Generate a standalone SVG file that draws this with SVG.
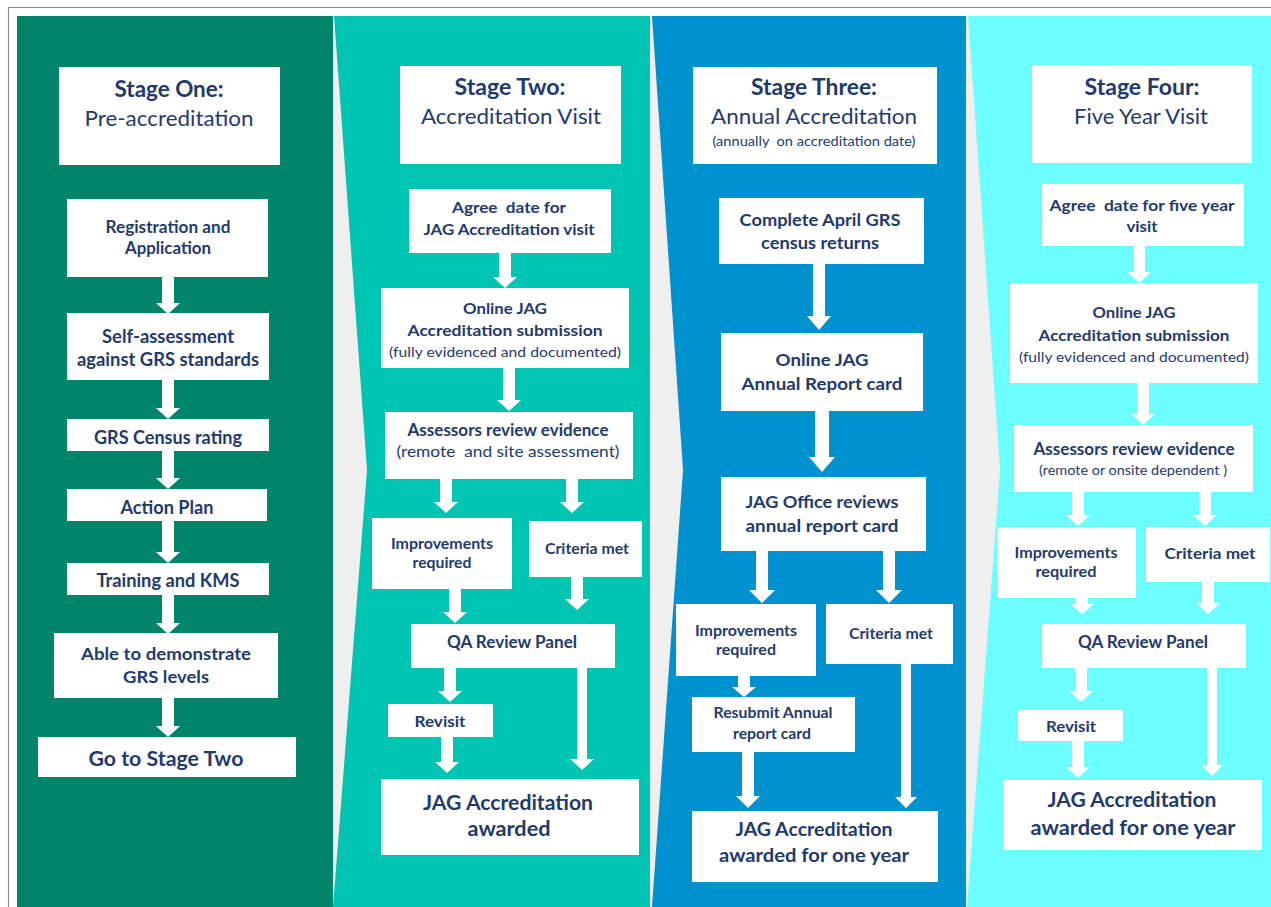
<svg xmlns="http://www.w3.org/2000/svg" width="1271" height="907" viewBox="0 0 1271 907">
<style>
.t{font-family:Lato,"Liberation Sans",sans-serif;fill:#1F3A6B;text-anchor:middle}
.b{font-weight:bold}
.r{font-weight:normal}
.p{white-space:pre}
.box{fill:#FFFFFF}
.arr{fill:#FFFFFF}
</style>
<rect x="0" y="0" width="1271" height="907" fill="#FFFFFF"/>
<g id="background">
<path d="M8.5 907 V7.5 H1271" fill="none" stroke="#8C8C8C" stroke-width="1.2"/>
<rect x="17" y="16" width="1254" height="891" fill="#EFEFEF"/>
<rect x="17" y="16" width="316" height="891" fill="#00846A"/>
<polygon points="334,16 650,16 650,907 333,907 367,470" fill="#00C5B2"/>
<polygon points="652,16 966,16 966,907 652,907 683,470" fill="#0092CF"/>
<polygon points="968,16 1271,16 1271,907 967,907 1000,470" fill="#6CFFFF"/>
</g>
<g id="connectors">
<path class="arr" d="M162 277 H174 V303 H180 L168 314 L156 303 H162 Z"/>
<path class="arr" d="M162 380 H174 V408 H180 L168 419 L156 408 H162 Z"/>
<path class="arr" d="M162 451 H174 V478 H180 L168 489 L156 478 H162 Z"/>
<path class="arr" d="M162 521 H174 V552 H180 L168 563 L156 552 H162 Z"/>
<path class="arr" d="M162 595 H174 V623 H180 L168 634 L156 623 H162 Z"/>
<path class="arr" d="M162 698 H174 V726 H180 L168 737 L156 726 H162 Z"/>
<path class="arr" d="M499 253 H511 V277 H517 L505 288 L493 277 H499 Z"/>
<path class="arr" d="M503 368 H515 V400 H521 L509 411 L497 400 H503 Z"/>
<path class="arr" d="M440 479 H452 V502 H458 L446 513 L434 502 H440 Z"/>
<path class="arr" d="M566 479 H578 V502 H584 L572 513 L560 502 H566 Z"/>
<path class="arr" d="M449 589 H461 V612 H467 L455 623 L443 612 H449 Z"/>
<path class="arr" d="M571 577 H583 V599 H589 L577 610 L565 599 H571 Z"/>
<path class="arr" d="M444 668 H456 V691 H462 L450 702 L438 691 H444 Z"/>
<path class="arr" d="M577 668 H587 V759 H594 L582 770 L570 759 H577 Z"/>
<path class="arr" d="M441 737 H453 V762 H459 L447 773 L435 762 H441 Z"/>
<path class="arr" d="M813 264 H825 V316 H831 L819 330 L807 316 H813 Z"/>
<path class="arr" d="M815 411 H829 V457 H835 L822 472 L809 457 H815 Z"/>
<path class="arr" d="M756 551 H768 V590 H775 L762 603 L749 590 H756 Z"/>
<path class="arr" d="M883 551 H895 V590 H902 L889 603 L876 590 H883 Z"/>
<path class="arr" d="M738 676 H750 V687 H756 L744 697 L732 687 H738 Z"/>
<path class="arr" d="M742 752 H754 V796 H760 L748 808 L736 796 H742 Z"/>
<path class="arr" d="M901 664 H911 V797 H917 L906 808 L895 797 H901 Z"/>
<path class="arr" d="M1133 246 H1145 V272 H1151 L1139 283 L1127 272 H1133 Z"/>
<path class="arr" d="M1137 383 H1149 V414 H1155 L1143 425 L1131 414 H1137 Z"/>
<path class="arr" d="M1072 492 H1084 V515 H1090 L1078 526 L1066 515 H1072 Z"/>
<path class="arr" d="M1199 492 H1211 V515 H1217 L1205 526 L1193 515 H1199 Z"/>
<path class="arr" d="M1076 598 H1088 V604 H1094 L1082 614 L1070 604 H1076 Z"/>
<path class="arr" d="M1202 582 H1214 V603 H1220 L1208 614 L1196 603 H1202 Z"/>
<path class="arr" d="M1075 668 H1087 V691 H1093 L1081 702 L1069 691 H1075 Z"/>
<path class="arr" d="M1207 668 H1217 V765 H1223 L1212 776 L1201 765 H1207 Z"/>
<path class="arr" d="M1072 741 H1084 V767 H1090 L1078 778 L1066 767 H1072 Z"/>
</g>
<g id="s1-header"><rect class="box" x="59" y="67" width="221" height="98"/>
<text class="t b" x="169" y="97" font-size="22" textLength="109" lengthAdjust="spacingAndGlyphs">Stage One:</text>
<text class="t r" x="169" y="126" font-size="22" textLength="169" lengthAdjust="spacingAndGlyphs">Pre-accreditation</text></g>
<g id="s1-registration"><rect class="box" x="67" y="199" width="201" height="78"/>
<text class="t b" x="168" y="233" font-size="16.5" textLength="125" lengthAdjust="spacingAndGlyphs">Registration and</text>
<text class="t b" x="168" y="254" font-size="16.5" textLength="86" lengthAdjust="spacingAndGlyphs">Application</text></g>
<g id="s1-self"><rect class="box" x="67" y="313" width="202" height="67"/>
<text class="t b" x="168" y="343" font-size="18" textLength="132" lengthAdjust="spacingAndGlyphs">Self-assessment</text>
<text class="t b" x="168" y="366" font-size="18" textLength="182" lengthAdjust="spacingAndGlyphs">against GRS standards</text></g>
<g id="s1-census"><rect class="box" x="67" y="419" width="202" height="32"/>
<text class="t b" x="168" y="444" font-size="18" textLength="148" lengthAdjust="spacingAndGlyphs">GRS Census rating</text></g>
<g id="s1-action"><rect class="box" x="67" y="489" width="200" height="32"/>
<text class="t b" x="167" y="514" font-size="18" textLength="93" lengthAdjust="spacingAndGlyphs">Action Plan</text></g>
<g id="s1-training"><rect class="box" x="67" y="563" width="202" height="32"/>
<text class="t b" x="168" y="587" font-size="18" textLength="143" lengthAdjust="spacingAndGlyphs">Training and KMS</text></g>
<g id="s1-able"><rect class="box" x="54" y="633" width="224" height="65"/>
<text class="t b" x="166" y="660" font-size="17.5" textLength="170" lengthAdjust="spacingAndGlyphs">Able to demonstrate</text>
<text class="t b" x="166" y="683" font-size="17.5" textLength="86" lengthAdjust="spacingAndGlyphs">GRS levels</text></g>
<g id="s1-go"><rect class="box" x="38" y="737" width="258" height="40"/>
<text class="t b" x="166" y="766" font-size="20" textLength="155" lengthAdjust="spacingAndGlyphs">Go to Stage Two</text></g>
<g id="s2-header"><rect class="box" x="400" y="66" width="221" height="98"/>
<text class="t b" x="510" y="95" font-size="22" textLength="111" lengthAdjust="spacingAndGlyphs">Stage Two:</text>
<text class="t r" x="511" y="124" font-size="22" textLength="180" lengthAdjust="spacingAndGlyphs">Accreditation Visit</text></g>
<g id="s2-agree"><rect class="box" x="409" y="189" width="202" height="64"/>
<text class="t b p" xml:space="preserve" x="509" y="213" font-size="16" textLength="114" lengthAdjust="spacingAndGlyphs">Agree  date for</text>
<text class="t b" x="509" y="235" font-size="16" textLength="171" lengthAdjust="spacingAndGlyphs">JAG Accreditation visit</text></g>
<g id="s2-online"><rect class="box" x="381" y="288" width="248" height="80"/>
<text class="t b" x="505" y="314" font-size="16" textLength="84" lengthAdjust="spacingAndGlyphs">Online JAG</text>
<text class="t b" x="505" y="336" font-size="16" textLength="195" lengthAdjust="spacingAndGlyphs">Accreditation submission</text>
<text class="t r" x="505" y="357" font-size="14" textLength="232" lengthAdjust="spacingAndGlyphs">(fully evidenced and documented)</text></g>
<g id="s2-assessors"><rect class="box" x="385" y="412" width="248" height="67"/>
<text class="t b" x="508" y="436" font-size="16.5" textLength="201" lengthAdjust="spacingAndGlyphs">Assessors review evidence</text>
<text class="t r p" xml:space="preserve" x="508" y="457" font-size="16" textLength="223" lengthAdjust="spacingAndGlyphs">(remote  and site assessment)</text></g>
<g id="s2-improve"><rect class="box" x="372" y="518" width="140" height="71"/>
<text class="t b" x="442" y="549" font-size="15" textLength="102" lengthAdjust="spacingAndGlyphs">Improvements</text>
<text class="t b" x="442" y="568" font-size="15" textLength="59" lengthAdjust="spacingAndGlyphs">required</text></g>
<g id="s2-criteria"><rect class="box" x="529" y="521" width="113" height="56"/>
<text class="t b" x="587" y="554" font-size="15" textLength="84" lengthAdjust="spacingAndGlyphs">Criteria met</text></g>
<g id="s2-qa"><rect class="box" x="411" y="624" width="204" height="44"/>
<text class="t b" x="512" y="648" font-size="16.5" textLength="130" lengthAdjust="spacingAndGlyphs">QA Review Panel</text></g>
<g id="s2-revisit"><rect class="box" x="388" y="704" width="105" height="33"/>
<text class="t b" x="440" y="727" font-size="16" textLength="51" lengthAdjust="spacingAndGlyphs">Revisit</text></g>
<g id="s2-awarded"><rect class="box" x="381" y="779" width="258" height="76"/>
<text class="t b" x="508" y="810" font-size="20.5" textLength="170" lengthAdjust="spacingAndGlyphs">JAG Accreditation</text>
<text class="t b" x="509" y="836" font-size="20.5" textLength="83" lengthAdjust="spacingAndGlyphs">awarded</text></g>
<g id="s3-header"><rect class="box" x="693" y="67" width="244" height="97"/>
<text class="t b" x="814" y="95" font-size="22" textLength="126" lengthAdjust="spacingAndGlyphs">Stage Three:</text>
<text class="t r" x="814" y="124" font-size="22" textLength="206" lengthAdjust="spacingAndGlyphs">Annual Accreditation</text>
<text class="t r p" xml:space="preserve" x="814" y="146" font-size="13" textLength="203" lengthAdjust="spacingAndGlyphs">(annually  on accreditation date)</text></g>
<g id="s3-complete"><rect class="box" x="719" y="198" width="205" height="66"/>
<text class="t b" x="820" y="226" font-size="17.5" textLength="161" lengthAdjust="spacingAndGlyphs">Complete April GRS</text>
<text class="t b" x="820" y="249" font-size="17.5" textLength="118" lengthAdjust="spacingAndGlyphs">census returns</text></g>
<g id="s3-online"><rect class="box" x="721" y="333" width="202" height="78"/>
<text class="t b" x="822" y="366" font-size="17.5" textLength="93" lengthAdjust="spacingAndGlyphs">Online JAG</text>
<text class="t b" x="822" y="390" font-size="17.5" textLength="161" lengthAdjust="spacingAndGlyphs">Annual Report card</text></g>
<g id="s3-office"><rect class="box" x="721" y="477" width="205" height="74"/>
<text class="t b" x="822" y="508" font-size="17.5" textLength="153" lengthAdjust="spacingAndGlyphs">JAG Office reviews</text>
<text class="t b" x="822" y="532" font-size="17.5" textLength="153" lengthAdjust="spacingAndGlyphs">annual report card</text></g>
<g id="s3-improve"><rect class="box" x="676" y="604" width="140" height="72"/>
<text class="t b" x="746" y="636" font-size="15" textLength="102" lengthAdjust="spacingAndGlyphs">Improvements</text>
<text class="t b" x="746" y="655" font-size="15" textLength="60" lengthAdjust="spacingAndGlyphs">required</text></g>
<g id="s3-criteria"><rect class="box" x="826" y="604" width="127" height="60"/>
<text class="t b" x="891" y="639" font-size="15" textLength="84" lengthAdjust="spacingAndGlyphs">Criteria met</text></g>
<g id="s3-resubmit"><rect class="box" x="692" y="697" width="163" height="55"/>
<text class="t b" x="773" y="718" font-size="15" textLength="119" lengthAdjust="spacingAndGlyphs">Resubmit Annual</text>
<text class="t b" x="772" y="739" font-size="15" textLength="78" lengthAdjust="spacingAndGlyphs">report card</text></g>
<g id="s3-awarded"><rect class="box" x="692" y="811" width="246" height="71"/>
<text class="t b" x="814" y="836" font-size="19" textLength="157" lengthAdjust="spacingAndGlyphs">JAG Accreditation</text>
<text class="t b" x="814" y="862" font-size="19" textLength="190" lengthAdjust="spacingAndGlyphs">awarded for one year</text></g>
<g id="s4-header"><rect class="box" x="1032" y="65" width="220" height="98"/>
<text class="t b" x="1142" y="95" font-size="22" textLength="115" lengthAdjust="spacingAndGlyphs">Stage Four:</text>
<text class="t r" x="1141" y="124" font-size="22" textLength="134" lengthAdjust="spacingAndGlyphs">Five Year Visit</text></g>
<g id="s4-agree"><rect class="box" x="1042" y="184" width="202" height="62"/>
<text class="t b p" xml:space="preserve" x="1142" y="211" font-size="16" textLength="185" lengthAdjust="spacingAndGlyphs">Agree  date for five year</text>
<text class="t b" x="1142" y="232" font-size="16" textLength="31" lengthAdjust="spacingAndGlyphs">visit</text></g>
<g id="s4-online"><rect class="box" x="1010" y="283" width="248" height="100"/>
<text class="t b" x="1134" y="318" font-size="16" textLength="83" lengthAdjust="spacingAndGlyphs">Online JAG</text>
<text class="t b" x="1134" y="341" font-size="16" textLength="191" lengthAdjust="spacingAndGlyphs">Accreditation submission</text>
<text class="t r" x="1134" y="362" font-size="14" textLength="230" lengthAdjust="spacingAndGlyphs">(fully evidenced and documented)</text></g>
<g id="s4-assessors"><rect class="box" x="1014" y="425" width="239" height="67"/>
<text class="t b" x="1134" y="455" font-size="16.5" textLength="201" lengthAdjust="spacingAndGlyphs">Assessors review evidence</text>
<text class="t r" x="1133" y="475" font-size="13.5" textLength="188" lengthAdjust="spacingAndGlyphs">(remote or onsite dependent )</text></g>
<g id="s4-improve"><rect class="box" x="997" y="527" width="139" height="71"/>
<text class="t b" x="1066" y="558" font-size="15" textLength="103" lengthAdjust="spacingAndGlyphs">Improvements</text>
<text class="t b" x="1066" y="577" font-size="15" textLength="61" lengthAdjust="spacingAndGlyphs">required</text></g>
<g id="s4-criteria"><rect class="box" x="1146" y="527" width="124" height="55"/>
<text class="t b" x="1210" y="559" font-size="16" textLength="91" lengthAdjust="spacingAndGlyphs">Criteria met</text></g>
<g id="s4-qa"><rect class="box" x="1042" y="624" width="204" height="44"/>
<text class="t b" x="1143" y="648" font-size="16.5" textLength="130" lengthAdjust="spacingAndGlyphs">QA Review Panel</text></g>
<g id="s4-revisit"><rect class="box" x="1018" y="710" width="105" height="31"/>
<text class="t b" x="1071" y="732" font-size="16" textLength="50" lengthAdjust="spacingAndGlyphs">Revisit</text></g>
<g id="s4-awarded"><rect class="box" x="1003" y="780" width="259" height="70"/>
<text class="t b" x="1132" y="807" font-size="20.5" textLength="169" lengthAdjust="spacingAndGlyphs">JAG Accreditation</text>
<text class="t b" x="1133" y="835" font-size="20.5" textLength="205" lengthAdjust="spacingAndGlyphs">awarded for one year</text></g>
</svg>
